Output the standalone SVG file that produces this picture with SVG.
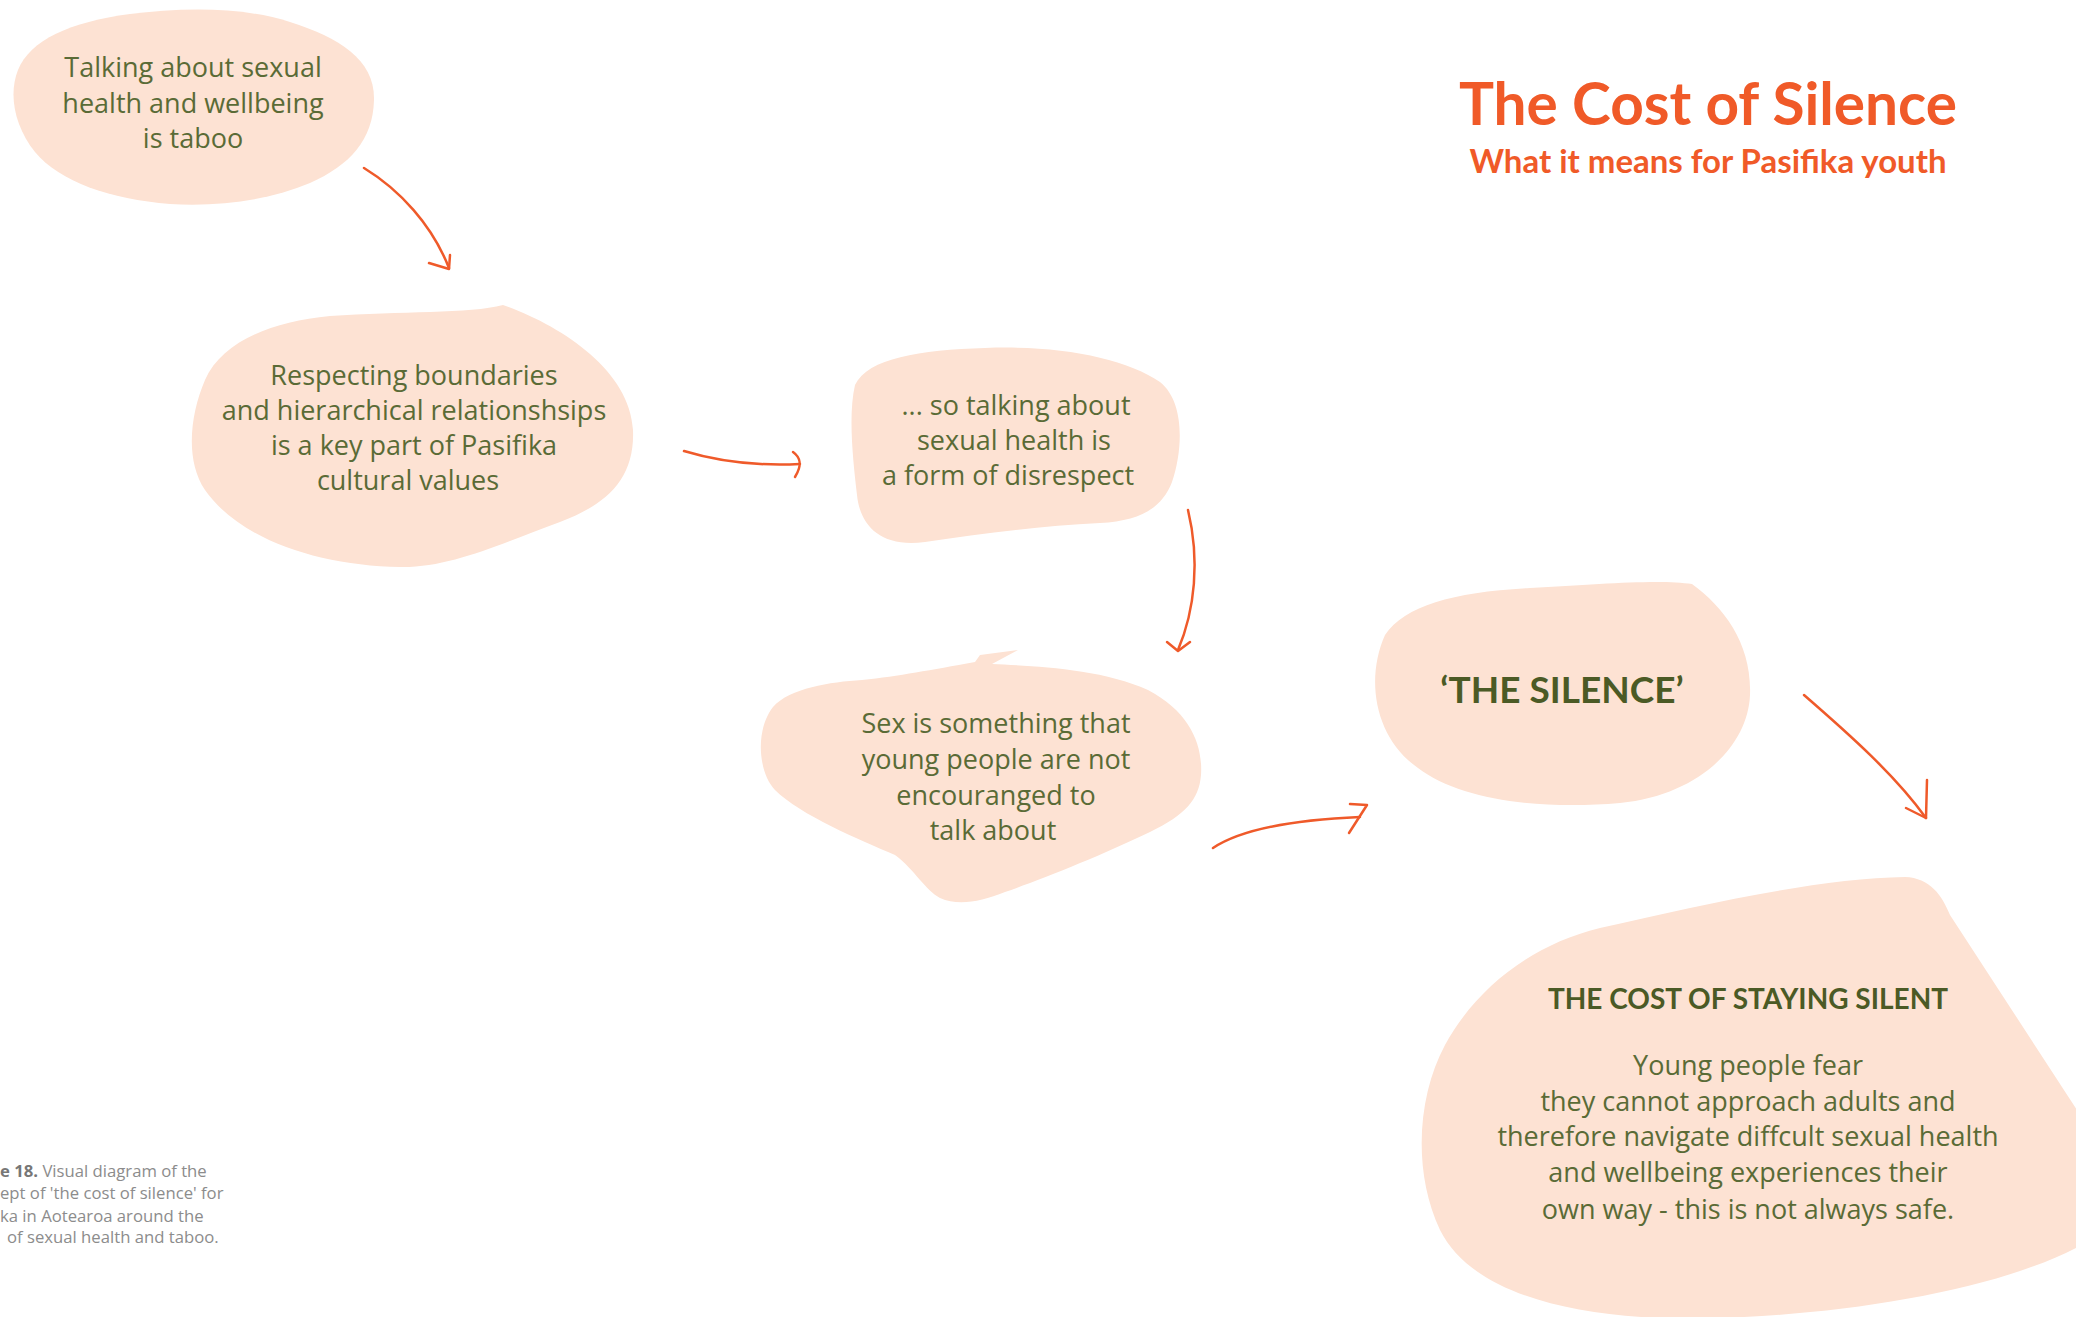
<svg xmlns="http://www.w3.org/2000/svg" width="2076" height="1317" viewBox="0 0 2076 1317">
<defs>
<style>
.blob{fill:#FDE2D3;}
.txt{font-family:"Open Sans","Liberation Sans",sans-serif;font-size:27px;fill:#5A6B36;text-anchor:middle;}
.bold{font-family:"Lato","Liberation Sans",sans-serif;font-weight:bold;fill:#4B5A25;text-anchor:middle;}
.title{font-family:"Lato","Liberation Sans",sans-serif;font-weight:bold;fill:#F05A28;text-anchor:middle;}
.conn{fill:none;stroke:#EF5A2A;stroke-width:2.5;stroke-linecap:round;stroke-linejoin:round;}
.cap{font-family:"Open Sans","Liberation Sans",sans-serif;font-size:16.7px;fill:#8C8C8C;}
</style>
</defs>
<rect width="2076" height="1317" fill="#FFFFFF"/>

<g id="title">
<text class="title" x="1708" y="125" font-size="60" textLength="498" lengthAdjust="spacingAndGlyphs">The Cost of Silence</text>
<text class="title" x="1708" y="173" font-size="33" textLength="477" lengthAdjust="spacingAndGlyphs">What it means for Pasifika youth</text>
</g>

<g id="node-taboo">
<path class="blob" d="M 18,70 C 30,40 70,22 130,14 C 180,8 240,6 290,22 C 340,38 375,60 374,100 C 373,140 350,165 310,183 C 270,200 220,207 170,204 C 110,199 60,182 35,152 C 15,127 8,95 18,70 Z"/>
<text class="txt" x="193" y="77">Talking about sexual</text>
<text class="txt" x="193" y="113">health and wellbeing</text>
<text class="txt" x="193" y="148">is taboo</text>
</g>

<g id="node-respect">
<path class="blob" d="M 205,380 C 222,342 270,322 330,316 C 400,311 470,314 503,305 C 560,325 630,370 633,430 C 635,480 605,505 560,522 C 500,544 450,568 400,567 C 320,566 240,540 205,490 C 185,460 190,415 205,380 Z"/>
<text class="txt" x="414" y="385" font-size="26">Respecting boundaries</text>
<text class="txt" x="414" y="420" font-size="26">and hierarchical relationshsips</text>
<text class="txt" x="414" y="455" font-size="26">is a key part of Pasifika</text>
<text class="txt" x="408" y="490" font-size="26">cultural values</text>
</g>

<g id="node-disrespect">
<path class="blob" d="M 855,385 C 868,358 920,350 985,348 C 1060,345 1125,358 1160,382 C 1185,402 1183,450 1172,482 C 1162,508 1140,521 1100,523 C 1040,526 980,534 925,542 C 880,548 860,525 857,495 C 853,460 848,415 855,385 Z"/>
<text class="txt" x="1016" y="415">... so talking about</text>
<text class="txt" x="1014" y="450">sexual health is</text>
<text class="txt" x="1008" y="485">a form of disrespect</text>
</g>

<g id="node-sex">
<path class="blob" d="M 773,707 C 790,688 830,682 862,680 C 900,676 930,670 975,662 L 980,655 L 1018,650 L 992,664 C 1030,666 1100,668 1148,690 C 1190,712 1203,745 1201,775 C 1199,800 1185,815 1150,832 C 1100,856 1040,880 1005,892 C 980,902 958,906 940,898 C 925,890 915,870 895,855 C 860,840 800,815 775,790 C 758,772 755,730 773,707 Z"/>
<text class="txt" x="996" y="733">Sex is something that</text>
<text class="txt" x="996" y="769">young people are not</text>
<text class="txt" x="996" y="805">encouranged to</text>
<text class="txt" x="993" y="840">talk about</text>
</g>

<g id="node-silence">
<path class="blob" d="M 1385,635 C 1405,605 1455,592 1530,588 C 1600,584 1660,579 1692,584 C 1725,608 1752,645 1750,695 C 1748,745 1700,795 1620,803 C 1540,810 1460,800 1418,768 C 1375,738 1365,680 1385,635 Z"/>
<text class="bold" x="1562" y="703" font-size="37">‘THE SILENCE’</text>
</g>

<g id="node-cost">
<path class="blob" d="M 1445,1045 C 1475,990 1530,945 1600,928 C 1700,905 1820,878 1905,877 C 1930,878 1942,895 1950,915 L 2090,1130 L 2090,1240 C 2000,1295 1800,1322 1660,1318 C 1560,1314 1470,1290 1440,1230 C 1412,1170 1418,1095 1445,1045 Z"/>
<text class="bold" x="1748" y="1009" font-size="28">THE COST OF STAYING SILENT</text>
<text class="txt" x="1748" y="1075">Young people fear</text>
<text class="txt" x="1748" y="1111">they cannot approach adults and</text>
<text class="txt" x="1748" y="1146">therefore navigate diffcult sexual health</text>
<text class="txt" x="1748" y="1182">and wellbeing experiences their</text>
<text class="txt" x="1748" y="1219">own way - this is not always safe.</text>
</g>

<g id="connectors">
<path class="conn" d="M 364,168 C 400,190 432,225 449,268"/>
<path class="conn" d="M 429,263 L 449,269 L 450,255"/>
<path class="conn" d="M 684,451 C 720,462 760,466 800,464"/>
<path class="conn" d="M 793,452 C 800,457 803,464 795,477"/>
<path class="conn" d="M 1188,510 C 1200,560 1195,610 1178,650"/>
<path class="conn" d="M 1167,642 L 1178,651 L 1190,642"/>
<path class="conn" d="M 1213,848 C 1240,830 1290,820 1360,817"/>
<path class="conn" d="M 1350,804 L 1367,805 L 1349,833"/>
<path class="conn" d="M 1804,695 C 1850,735 1895,775 1926,818"/>
<path class="conn" d="M 1906,808 L 1926,818 L 1927,780"/>
</g>

<g id="caption">
<text class="cap" x="0" y="1177"><tspan font-weight="bold" fill="#777777">e 18.</tspan> Visual diagram of the</text>
<text class="cap" x="0" y="1199">ept of 'the cost of silence' for</text>
<text class="cap" x="0" y="1222">ka in Aotearoa around the</text>
<text class="cap" x="7" y="1243">of sexual health and taboo.</text>
</g>
</svg>
